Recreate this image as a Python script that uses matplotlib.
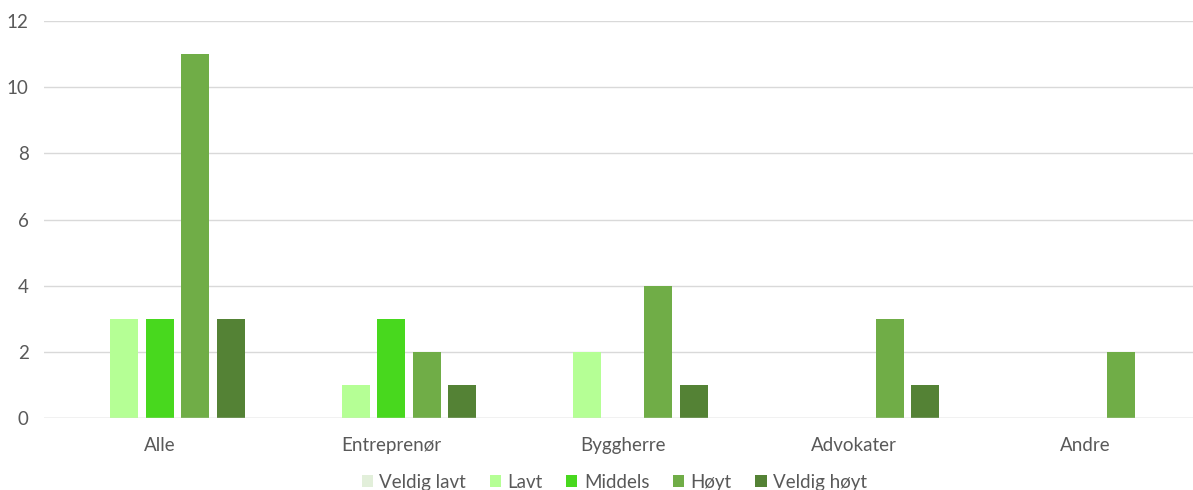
import matplotlib
matplotlib.use('Agg')
import matplotlib.pyplot as plt
import numpy as np

plt.rcParams['font.family'] = ['Lato', 'DejaVu Sans']

categories = ['Alle', 'Entreprenør', 'Byggherre', 'Advokater', 'Andre']
series = ['Veldig lavt', 'Lavt', 'Middels', 'Høyt', 'Veldig høyt']
veldig_lavt = [0, 0, 0, 0, 0]
lavt = [3, 1, 2, 0, 0]
middels = [3, 3, 0, 0, 0]
hoyt = [11, 2, 4, 3, 2]
veldig_hoyt = [3, 1, 1, 1, 0]
colors = ['#E2EFDA', '#B5FF95', '#48D81E', '#70AD47', '#548235']

values = [veldig_lavt, lavt, middels, hoyt, veldig_hoyt]
text_color = '#595959'

fig = plt.figure(figsize=(11.93, 4.9), dpi=100)
# plot area runs a little past the right edge, as in the original crop
ax = fig.add_axes([44 / 1193, 0.147, 1157.5 / 1193, 0.81])

x = np.arange(len(categories))
slot = 0.153
width = 0.121
for i, (name, vals) in enumerate(zip(series, values)):
    ax.bar(x + (i - 2) * slot, vals, width, color=colors[i], label=name, zorder=3)

ax.set_xlim(-0.5, len(categories) - 0.5)
ax.set_ylim(0, 12)
ax.set_yticks(range(0, 13, 2))
ax.set_xticks(x)
ax.set_xticklabels(categories)
ax.grid(axis='y', color='#D9D9D9', linewidth=1, zorder=0)
for s in ['top', 'right', 'left', 'bottom']:
    ax.spines[s].set_visible(False)
ax.axhline(0, color='#D9D9D9', linewidth=1, zorder=4)
ax.tick_params(axis='both', length=0, colors=text_color, labelsize=13.5)
ax.tick_params(axis='x', pad=14)
ax.tick_params(axis='y', pad=11)

# legend sits right at the bottom edge
fig.legend(loc='lower center', bbox_to_anchor=(0.515, -0.024), ncol=5, frameon=False,
           fontsize=13.5, labelcolor=text_color, handlelength=0.6, handleheight=0.6,
           handletextpad=0.35, columnspacing=1.25, borderpad=0.1)

fig.savefig('out.png', dpi=100)
